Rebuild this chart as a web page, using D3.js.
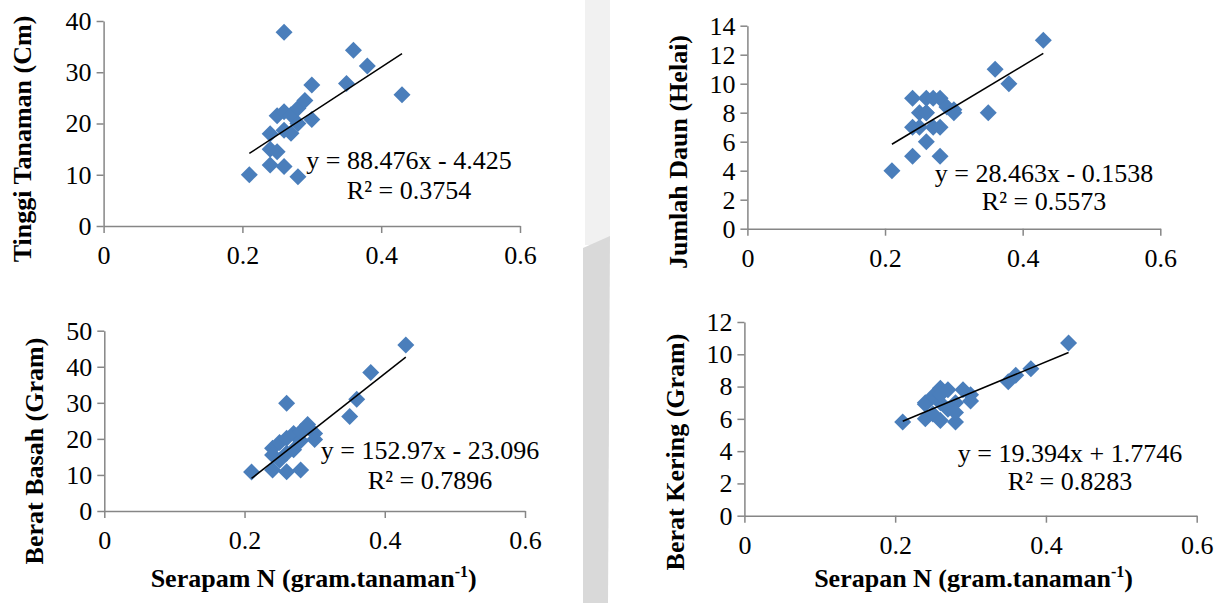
<!DOCTYPE html>
<html>
<meta charset="utf-8" />
<script src="https://d3js.org/d3.v7.min.js"></script>
<style>
  body { margin: 0; background: #fff; }
  text { font-family: "Liberation Serif", "Times New Roman", serif; }
</style>
<body>
<svg id="chart" width="1229" height="603" font-family="Liberation Serif, serif"></svg>
<script>
// Serapan N (gram.tanaman-1), shared by all four plots
var serapanN = [0.21, 0.24, 0.24, 0.24, 0.25, 0.25, 0.26, 0.26, 0.26, 0.26, 0.27,
                0.27, 0.28, 0.28, 0.28, 0.29, 0.30, 0.30, 0.35, 0.36, 0.38, 0.43]

var tinggiTanaman = [10.0, 11.9, 15.0, 18.0, 14.5, 21.5, 11.6, 18.7, 22.3, 37.8, 18.1,
                     21.7, 9.6, 20.0, 23.0, 24.5, 27.5, 20.8, 27.8, 34.3, 31.2, 25.6]
var jumlahDaun = [4, 5, 7, 9, 7, 8, 6, 8, 9, 8, 9,
                  7, 5, 7, 9, 8.4, 8, 8.2, 8, 11, 10, 13]
var beratBasah = [10.8, 11.4, 17.4, 15.5, 14.1, 19.0, 10.9, 16.0, 20.2, 29.9, 17.0,
                  21.5, 11.4, 19.5, 22.0, 24.0, 21.5, 19.8, 26.2, 31.0, 38.4, 46.0]
var beratKering = [5.8, 6.0, 7.0, 6.9, 6.3, 7.4, 5.9, 7.0, 7.9, 7.5, 6.6,
                   7.8, 5.8, 7.0, 6.4, 7.8, 7.5, 7.1, 8.3, 8.7, 9.1, 10.7]

var xTicks = [0, 0.2, 0.4, 0.6]
var yTicksTinggi = [0, 10, 20, 30, 40]
var yTicksDaun = [0, 2, 4, 6, 8, 10, 12, 14]
var yTicksBasah = [0, 10, 20, 30, 40, 50]
var yTicksKering = [0, 2, 4, 6, 8, 10, 12]

// trendline: slope, intercept and labels as printed
var trendTinggi = [88.476, -4.425]
var trendDaun = [28.463, -0.1538]
var trendBasah = [152.97, -23.096]
var trendKering = [19.394, 1.7746]
var eqLabels = ["y = 88.476x - 4.425", "y = 28.463x - 0.1538", "y = 152.97x - 23.096", "y = 19.394x + 1.7746"]
var r2Labels = ["R\u00b2 = 0.3754", "R\u00b2 = 0.5573", "R\u00b2 = 0.7896", "R\u00b2 = 0.8283"]
var yTitles = ["Tinggi Tanaman (Cm)", "Jumlah Daun (Helai)", "Berat Basah (Gram)", "Berat Kering (Gram)"]
var xTitles = [null, null, "Serapam N (gram.tanaman", "Serapan N (gram.tanaman"]

var svg = d3.select("#chart")

// grey watermark band in the middle
svg.append("rect").attr("x", 585).attr("y", 0).attr("width", 25).attr("height", 245).attr("fill", "#f1f1f1")
svg.append("path").attr("d", "M583,248 L610,236 L608,603 L583,603 Z").attr("fill", "#d9d9d9")

var panels = [
  { y: tinggiTanaman, ticks: yTicksTinggi, trend: trendTinggi, x0: 103.6, x1: 520, yb: 226, yt: 21, eq: [409, 169, 199], tx: 22, ty: 139 },
  { y: jumlahDaun, ticks: yTicksDaun, trend: trendDaun, x0: 747.4, x1: 1160.3, yb: 228.7, yt: 25.7, eq: [1044, 182, 210], tx: 678, ty: 152 },
  { y: beratBasah, ticks: yTicksBasah, trend: trendBasah, x0: 104.3, x1: 525, yb: 511, yt: 330.7, eq: [430, 459, 489], tx: 34, ty: 451 },
  { y: beratKering, ticks: yTicksKering, trend: trendKering, x0: 744.4, x1: 1196.7, yb: 515.7, yt: 322, eq: [1070, 462, 490], tx: 675, ty: 452 }
]

panels.forEach(function(p, i) {
  var x = d3.scaleLinear().domain([0, 0.6]).range([p.x0, p.x1])
  var y = d3.scaleLinear().domain([0, d3.max(p.ticks)]).range([p.yb, p.yt])
  var g = svg.append("g")

  // axes
  var xa = g.append("g").attr("transform", "translate(0," + p.yb + ")")
    .call(d3.axisBottom(x).tickValues(xTicks).tickSize(7).tickSizeOuter(0).tickPadding(13).tickFormat(d3.format("")))
  var ya = g.append("g").attr("transform", "translate(" + p.x0 + ",0)")
    .call(d3.axisLeft(y).tickValues(p.ticks).tickSize(7).tickSizeOuter(0).tickPadding(5))
  ;[xa, ya].forEach(function(a) {
    a.attr("font-family", null).attr("font-size", null)
    a.select(".domain").attr("stroke", "#868686").attr("stroke-width", 1.5)
    a.selectAll(".tick line").attr("stroke", "#868686").attr("stroke-width", 1.5)
    a.selectAll(".tick text").attr("fill", "#000").style("font-size", "26px")
  })

  // points
  g.selectAll("path.pt").data(serapanN).enter().append("path")
    .attr("class", "pt")
    .attr("d", function(d, k) {
      var cx = x(d), cy = y(p.y[k]), r = 8.5
      return "M" + cx + "," + (cy - r) + "L" + (cx + r) + "," + cy + "L" + cx + "," + (cy + r) + "L" + (cx - r) + "," + cy + "Z"
    })
    .attr("fill", "#4a7ebb")

  // trendline
  var xr = d3.extent(serapanN)
  g.append("line")
    .attr("x1", x(xr[0])).attr("y1", y(p.trend[0] * xr[0] + p.trend[1]))
    .attr("x2", x(xr[1])).attr("y2", y(p.trend[0] * xr[1] + p.trend[1]))
    .attr("stroke", "#000").attr("stroke-width", 1.5)

  // equation labels
  g.append("text").attr("x", p.eq[0]).attr("y", p.eq[1]).attr("text-anchor", "middle")
    .style("font-size", "26px").text(eqLabels[i])
  g.append("text").attr("x", p.eq[0]).attr("y", p.eq[2]).attr("text-anchor", "middle")
    .style("font-size", "26px").text(r2Labels[i])

  // y title
  g.append("text")
    .attr("transform", "translate(" + p.tx + "," + p.ty + ") rotate(-90)")
    .attr("text-anchor", "middle").attr("dy", "0.35em")
    .style("font-size", "26px").style("font-weight", "bold")
    .text(yTitles[i])

  // x title
  if (xTitles[i]) {
    var t = g.append("text")
      .attr("x", (p.x0 + p.x1) / 2 + (i == 2 ? -1 : 3)).attr("y", 587)
      .attr("text-anchor", "middle")
      .style("font-size", "26px").style("font-weight", "bold")
    t.append("tspan").text(xTitles[i])
    t.append("tspan").attr("dy", -10).style("font-size", "16px").text("-1")
    t.append("tspan").attr("dy", 10).text(")")
  }
})
</script>
</body>
</html>
